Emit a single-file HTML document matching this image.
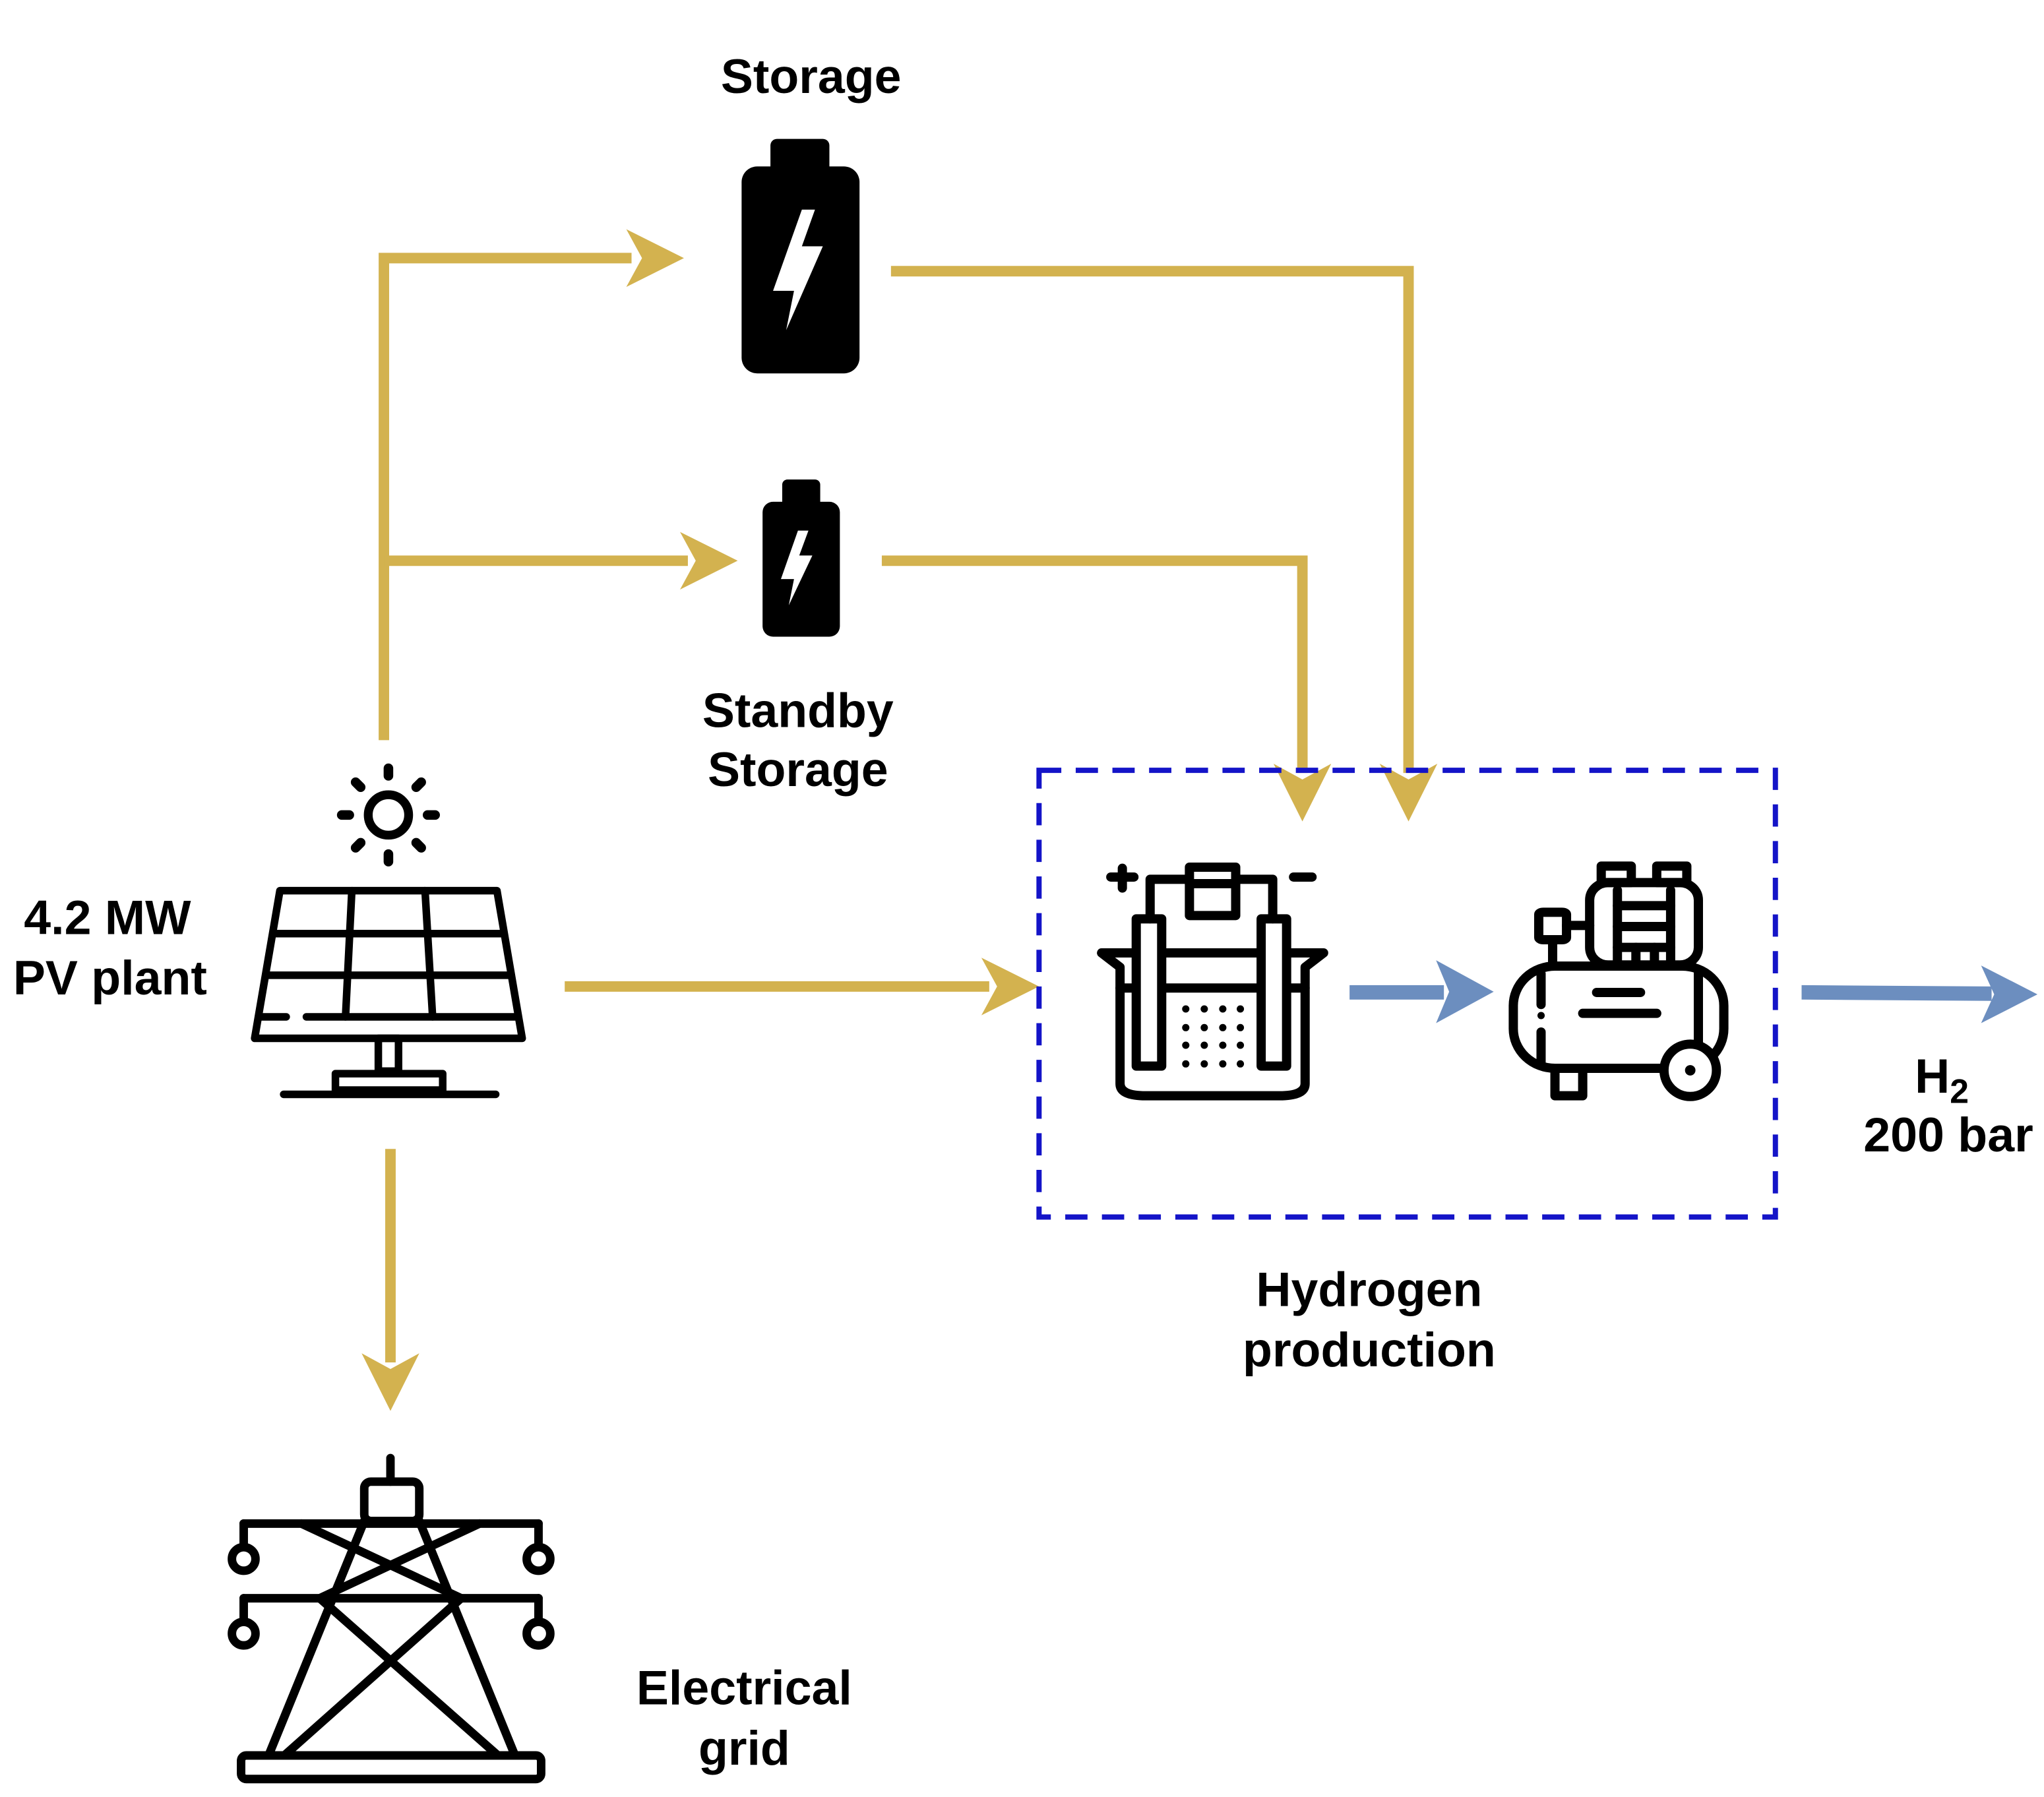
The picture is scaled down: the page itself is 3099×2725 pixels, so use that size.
<!DOCTYPE html>
<html><head><meta charset="utf-8"><style>
html,body{margin:0;padding:0;background:#fff}
svg{display:block}
text{font-family:"Liberation Sans",Arial,sans-serif;font-weight:bold;fill:#000;text-anchor:middle}
.ns *{vector-effect:non-scaling-stroke}
</style></head><body>
<svg width="3099" height="2725" viewBox="0 0 1560 1371.7" xmlns="http://www.w3.org/2000/svg">
<rect width="1560" height="1372" fill="#fff"/>
<!-- gold connectors -->
<g stroke="#d3b24f" stroke-width="8" fill="none">
<polyline points="293,565 293,197 482,197"/>
<line x1="293" y1="428" x2="525" y2="428"/>
<polyline points="680,207 1075,207 1075,590"/>
<polyline points="673,428 994,428 994,590"/>
<line x1="431" y1="753" x2="755" y2="753"/>
<line x1="298" y1="877" x2="298" y2="1040"/>
</g>
<g fill="#d3b24f">
<polygon points="478,175 522,197 478,219 490,197"/>
<polygon points="519,406 563,428 519,450 531,428"/>
<polygon points="1053,583 1075,627 1097,583 1075,595"/>
<polygon points="972,583 994,627 1016,583 994,595"/>
<polygon points="749,731 793,753 749,775 761,753"/>
<polygon points="276,1033 298,1077 320,1033 298,1045"/>
</g>
<!-- blue arrows -->
<g fill="#6c8ebf">
<rect x="1030" y="752" width="72" height="11"/>
<polygon points="1096,733 1140,757 1096,781 1106,757"/>
<polygon points="1375,752 1520,753 1520,764 1375,763"/>
<polygon points="1512,737 1555,759 1512,781 1522,759"/>
</g>
<!-- dashed box -->
<rect x="793" y="588" width="562" height="341" fill="none" stroke="#1414c8" stroke-width="4" stroke-dasharray="17 11"/>
<!-- batteries -->
<rect x="588" y="106" width="45" height="30" rx="5" fill="#000"/>
<rect x="566" y="127" width="90" height="158" rx="12" fill="#000"/>
<polygon points="612,160 590,222 606,222 600,252 628,188 612,188 622,160" fill="#fff"/>
<rect x="597" y="366" width="29" height="22" rx="4" fill="#000"/>
<rect x="582" y="383" width="59" height="103" rx="8" fill="#000"/>
<polygon points="609,405 596,442 606,442 602,462 620,424 610,424 617,405" fill="#fff"/>
<!-- solar panel -->
<g transform="scale(0.50337) translate(300,1100) scale(0.3827)" stroke="#000" fill="none" stroke-width="30" stroke-linecap="round" stroke-linejoin="round">
<circle cx="755" cy="355" r="80" stroke-width="35"/>
<g stroke-width="38">
<line x1="755" y1="170" x2="755" y2="200"/><line x1="755" y1="510" x2="755" y2="540"/>
<line x1="570" y1="355" x2="600" y2="355"/><line x1="910" y1="355" x2="940" y2="355"/>
<line x1="625" y1="225" x2="645" y2="245"/><line x1="865" y1="465" x2="885" y2="485"/>
<line x1="885" y1="225" x2="865" y2="245"/><line x1="625" y1="485" x2="645" y2="465"/>
</g>
<polygon points="325,655 1185,655 1285,1240 225,1240"/>
<line x1="305" y1="825" x2="1205" y2="825"/>
<line x1="280" y1="990" x2="1230" y2="990"/>
<line x1="250" y1="1155" x2="350" y2="1155"/>
<line x1="430" y1="1155" x2="1260" y2="1155"/>
<line x1="610" y1="655" x2="585" y2="1155"/>
<line x1="900" y1="655" x2="930" y2="1155"/>
<rect x="715" y="1240" width="80" height="130"/>
<rect x="545" y="1380" width="425" height="65"/>
<line x1="340" y1="1462" x2="1180" y2="1462"/>
</g>
<!-- electrolyzer & compressor -->
<g class="ns" transform="scale(0.50337) translate(1600,1250) scale(0.7015,0.33333)" stroke="#000" fill="none" stroke-width="14" stroke-linecap="round" stroke-linejoin="round">
<path d="M100,585 L580,585 L540,650 L540,1180 Q540,1235 485,1235 L195,1235 Q140,1235 140,1180 L140,650 Z"/>
<line x1="140" y1="745" x2="540" y2="745"/>
<rect x="175" y="430" width="55" height="670" fill="#fff"/>
<rect x="445" y="430" width="55" height="670" fill="#fff"/>
<polyline points="205,430 205,250 470,250 470,430"/>
<rect x="290" y="195" width="100" height="220" fill="#fff"/>
<line x1="290" y1="270" x2="390" y2="270"/>
<line x1="120" y1="240" x2="170" y2="240"/><line x1="145" y1="200" x2="145" y2="290"/>
<line x1="515" y1="240" x2="555" y2="240"/>
<path stroke-width="11" d="M282,840h.1M322,840h.1M362,840h.1M400,840h.1M282,925h.1M322,925h.1M362,925h.1M400,925h.1M282,1005h.1M322,1005h.1M362,1005h.1M400,1005h.1M282,1090h.1M322,1090h.1M362,1090h.1M400,1090h.1"/>
<rect x="990" y="645" width="455" height="465" rx="90" ry="180"/>
<line x1="1050" y1="680" x2="1050" y2="820"/><line x1="1050" y1="945" x2="1050" y2="1090"/>
<path stroke-width="11" d="M1050,870h.1"/>
<line x1="1390" y1="680" x2="1390" y2="1050"/>
<rect x="1155" y="265" width="235" height="375" rx="40" ry="80"/>
<line x1="1215" y1="370" x2="1330" y2="370"/><line x1="1215" y1="465" x2="1330" y2="465"/><line x1="1215" y1="560" x2="1330" y2="560"/>
<line x1="1215" y1="300" x2="1215" y2="640"/><line x1="1330" y1="300" x2="1330" y2="640"/>
<line x1="1255" y1="560" x2="1255" y2="640"/><line x1="1295" y1="560" x2="1295" y2="640"/>
<rect x="1180" y="190" width="65" height="75"/><rect x="1300" y="190" width="65" height="75"/>
<rect x="1045" y="400" width="60" height="125" rx="10"/>
<line x1="1105" y1="460" x2="1155" y2="460"/><line x1="1075" y1="525" x2="1075" y2="640"/>
<line x1="1170" y1="765" x2="1265" y2="765"/><line x1="1140" y1="860" x2="1300" y2="860"/>
<rect x="1080" y="1110" width="60" height="125"/>
</g>
<circle cx="1290" cy="817" r="20" fill="#fff" stroke="#000" stroke-width="7"/>
<circle cx="1290" cy="817" r="4" fill="#000"/>
<!-- tower -->
<g stroke="#000" stroke-width="6.5" fill="none" stroke-linecap="round" stroke-linejoin="round">
<line x1="298" y1="1113" x2="298" y2="1131"/>
<rect x="278" y="1131" width="42" height="30" rx="5"/>
<line x1="186" y1="1163" x2="411" y2="1163"/>
<line x1="186" y1="1220" x2="411" y2="1220"/>
<line x1="186" y1="1163" x2="186" y2="1180"/><line x1="411" y1="1163" x2="411" y2="1180"/>
<line x1="186" y1="1220" x2="186" y2="1237"/><line x1="411" y1="1220" x2="411" y2="1237"/>
<circle cx="186" cy="1190" r="9"/><circle cx="411" cy="1190" r="9"/>
<circle cx="186" cy="1247" r="9"/><circle cx="411" cy="1247" r="9"/>
<line x1="278" y1="1161" x2="205" y2="1340"/><line x1="320" y1="1161" x2="393" y2="1340"/>
<line x1="230" y1="1163" x2="352" y2="1220"/><line x1="366" y1="1163" x2="244" y2="1220"/>
<line x1="244" y1="1220" x2="380" y2="1340"/><line x1="352" y1="1220" x2="217" y2="1340"/>
<rect x="184" y="1340" width="229" height="18" rx="4"/>
</g>
<!-- labels -->
<g font-size="37">
<text x="619" y="71">Storage</text>
<text x="609" y="555">Standby</text>
<text x="609" y="600">Storage</text>
<text x="82" y="713">4.2 MW</text>
<text x="84" y="759">PV plant</text>
<text x="1482" y="834">H<tspan font-size="26" dy="8">2</tspan></text>
<text x="1487" y="879">200 bar</text>
<text x="1045" y="997">Hydrogen</text>
<text x="1045" y="1043">production</text>
<text x="568" y="1301">Electrical</text>
<text x="568" y="1347">grid</text>
</g>
</svg>
</body></html>
